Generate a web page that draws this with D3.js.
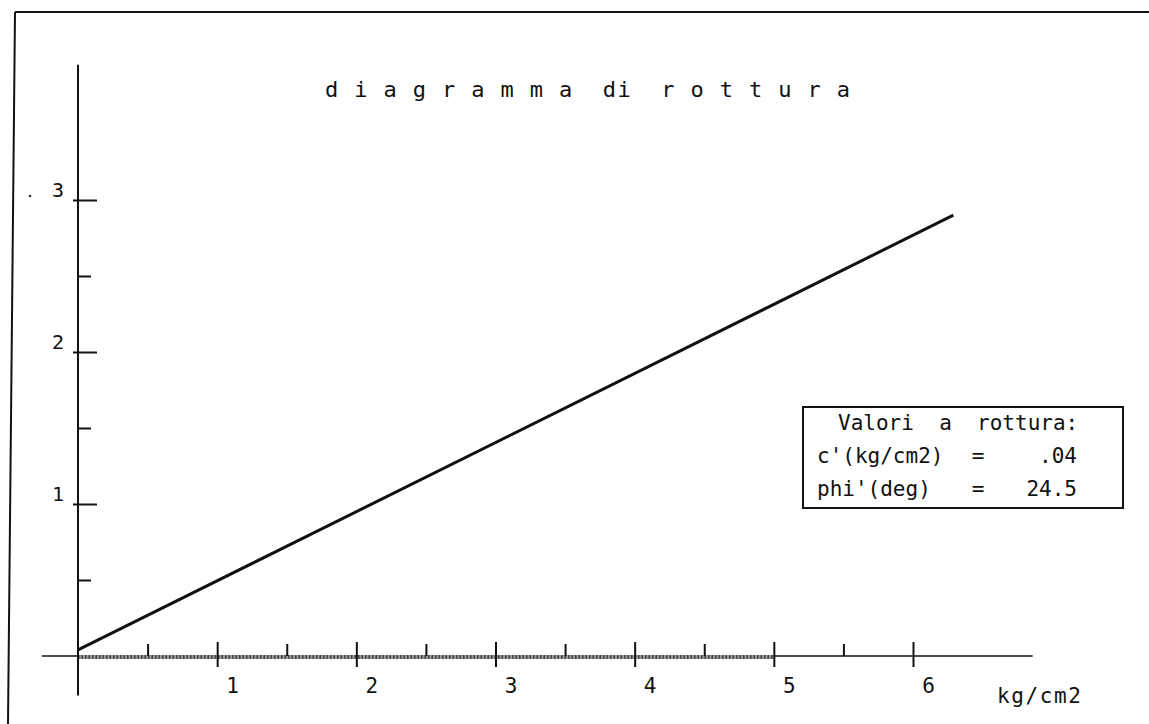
<!DOCTYPE html>
<html><head><meta charset="utf-8">
<script src="https://cdn.jsdelivr.net/npm/d3@7"></script>
<style>
body{margin:0;background:#fff}
svg{display:block}
text{font-family:"DejaVu Sans Mono",monospace;fill:#111}
</style>
</head><body>
<svg id="chart" width="1149" height="724"></svg>
<script>
// ---- data ----
const titleText = "d i a g r a m m a  di  r o t t u r a";
const xAxisTitle = "kg/cm2";
const xMajorTicks = [1, 2, 3, 4, 5, 6];
const xMinorTicks = [0.5, 1.5, 2.5, 3.5, 4.5, 5.5];
const yMajorTicks = [1, 2, 3];
const yMinorTicks = [0.5, 1.5, 2.5];
const xAxisExtent = [-0.26, 6.86];
const yAxisExtent = [-0.26, 3.89];
const shadedAxisSpan = [0, 5];
const sigma = [0, 6.29];        // normal stress kg/cm2
const tau = [0.04, 2.90];       // shear stress kg/cm2
const legendHeader = "Valori  a  rottura:";
const legendLabels = ["c'(kg/cm2)", "phi'(deg)"];
const legendValues = [".04", "24.5"];

// ---- layout ----
const svg = d3.select("#chart");
const x = d3.scaleLinear().domain([0, 6]).range([78, 913]);
const y = d3.scaleLinear().domain([0, 3]).range([656, 200]);

// frame (top and left border of the sheet)
svg.append("line").attr("x1", 15).attr("y1", 12).attr("x2", 1149).attr("y2", 12)
  .attr("stroke", "#111").attr("stroke-width", 2);
svg.append("line").attr("x1", 15).attr("y1", 12).attr("x2", 8).attr("y2", 724)
  .attr("stroke", "#111").attr("stroke-width", 2);
// small speck
svg.append("circle").attr("cx", 30).attr("cy", 196).attr("r", 1.3).attr("fill", "#333");

// title
svg.append("text").attr("x", 325).attr("y", 97)
  .attr("font-size", 22).attr("textLength", 525).attr("lengthAdjust", "spacing")
  .style("white-space", "pre").attr("xml:space", "preserve")
  .text(titleText);

// x axis line
svg.append("line")
  .attr("x1", x(xAxisExtent[0])).attr("x2", x(xAxisExtent[1]))
  .attr("y1", y(0)).attr("y2", y(0))
  .attr("stroke", "#111").attr("stroke-width", 1.6);
// shaded (scanned) portion of x axis
svg.append("line")
  .attr("x1", x(shadedAxisSpan[0])).attr("x2", x(shadedAxisSpan[1]))
  .attr("y1", y(0) + 1).attr("y2", y(0) + 1)
  .attr("stroke", "#9a9a9a").attr("stroke-width", 4);
svg.append("line")
  .attr("x1", x(shadedAxisSpan[0])).attr("x2", x(shadedAxisSpan[1]))
  .attr("y1", y(0) + 1).attr("y2", y(0) + 1)
  .attr("stroke", "#444").attr("stroke-width", 4).attr("stroke-dasharray", "1.5 2");

// y axis line
svg.append("line")
  .attr("x1", x(0)).attr("x2", x(0))
  .attr("y1", y(yAxisExtent[0])).attr("y2", y(yAxisExtent[1]))
  .attr("stroke", "#111").attr("stroke-width", 2);

// x major ticks
const gxMaj = svg.append("g").attr("transform", `translate(0,${y(0)})`)
  .call(d3.axisBottom(x).tickValues(xMajorTicks).tickFormat(d3.format("d")).tickSizeOuter(0));
gxMaj.select(".domain").remove();
gxMaj.selectAll(".tick line").attr("y1", -14).attr("y2", 11).attr("stroke", "#111").attr("stroke-width", 2);
gxMaj.selectAll(".tick text").attr("x", 15).attr("y", 37).attr("dy", null)
  .attr("font-size", 21).attr("font-family", "DejaVu Sans Mono").attr("fill", "#111");

// x minor ticks
const gxMin = svg.append("g").attr("transform", `translate(0,${y(0)})`)
  .call(d3.axisBottom(x).tickValues(xMinorTicks).tickFormat("").tickSizeOuter(0));
gxMin.select(".domain").remove();
gxMin.selectAll(".tick line").attr("y1", -12).attr("y2", 0).attr("stroke", "#111").attr("stroke-width", 2);

// y major ticks
const gyMaj = svg.append("g").attr("transform", `translate(${x(0)},0)`)
  .call(d3.axisLeft(y).tickValues(yMajorTicks).tickFormat(d3.format("d")).tickSizeOuter(0));
gyMaj.select(".domain").remove();
gyMaj.selectAll(".tick line").attr("x1", -5).attr("x2", 19).attr("stroke", "#111").attr("stroke-width", 2);
gyMaj.selectAll(".tick text").attr("x", -14).attr("y", -4).attr("dy", null)
  .attr("text-anchor", "end")
  .attr("font-size", 20).attr("font-family", "DejaVu Sans Mono").attr("fill", "#111");

// y minor ticks
const gyMin = svg.append("g").attr("transform", `translate(${x(0)},0)`)
  .call(d3.axisLeft(y).tickValues(yMinorTicks).tickFormat("").tickSizeOuter(0));
gyMin.select(".domain").remove();
gyMin.selectAll(".tick line").attr("x1", 0).attr("x2", 13).attr("stroke", "#111").attr("stroke-width", 2);

// x axis title
svg.append("text").attr("x", 997).attr("y", 703).attr("font-size", 21)
  .attr("textLength", 84).attr("lengthAdjust", "spacing").text(xAxisTitle);

// failure envelope line
const pts = sigma.map((s, i) => [s, tau[i]]);
svg.append("path").datum(pts)
  .attr("d", d3.line().x(d => x(d[0])).y(d => y(d[1])))
  .attr("fill", "none").attr("stroke", "#111").attr("stroke-width", 3);

// legend box
const lg = svg.append("g");
lg.append("rect").attr("x", 803).attr("y", 407).attr("width", 320).attr("height", 101)
  .attr("fill", "none").attr("stroke", "#111").attr("stroke-width", 2);
lg.append("text").attr("x", 838).attr("y", 430).attr("font-size", 21)
  .attr("xml:space", "preserve").style("white-space", "pre").text(legendHeader);
legendLabels.forEach((lab, i) => {
  const by = 463 + i * 33;
  lg.append("text").attr("x", 817).attr("y", by).attr("font-size", 21).text(lab);
  lg.append("text").attr("x", 978).attr("y", by).attr("font-size", 21).attr("text-anchor", "middle").text("=");
  lg.append("text").attr("x", 1077).attr("y", by).attr("font-size", 21).attr("text-anchor", "end").text(legendValues[i]);
});
</script>
</body></html>
